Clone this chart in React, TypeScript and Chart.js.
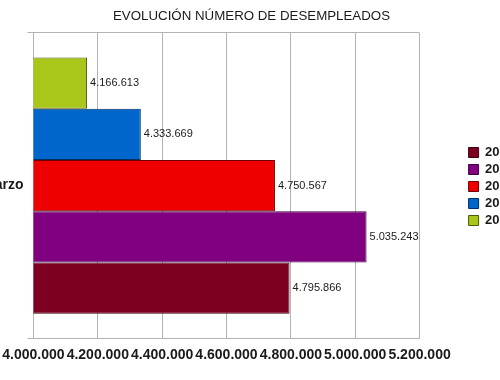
import React, { useEffect, useRef } from 'react';
import { Chart, registerables } from 'chart.js';

Chart.register(...registerables);

// ---- data ----
const categories = ['Marzo'];
const years = ['2014', '2013', '2012', '2011', '2010'];
const marzoValues = [4795866, 5035243, 4750567, 4333669, 4166613];
const xTickMin = 4000000;
const xTickMax = 5200000;
const xTickStep = 200000;
const titleText = 'EVOLUCIÓN NÚMERO DE DESEMPLEADOS';

// ---- styles ----
const fillColors = ['#7e0021', '#800080', '#ee0000', '#0066cc', '#a8c71a'];
const borderColors = ['#3d0010', '#3d003d', '#6e0000', '#00305f', '#4a5a08'];

const FONT = '"Liberation Sans", Arial, Helvetica, sans-serif';

function fmt(n: number): string {
  return Math.round(n).toString().replace(/\B(?=(\d{3})+(?!\d))/g, '.');
}

const valueLabels = {
  id: 'valueLabels',
  afterDatasetsDraw(chart: any) {
    const ctx = chart.ctx;
    ctx.save();
    ctx.font = `11px ${FONT}`;
    ctx.fillStyle = '#1a1a1a';
    ctx.textBaseline = 'middle';
    ctx.textAlign = 'left';
    chart.data.datasets.forEach((ds: any, i: number) => {
      const meta = chart.getDatasetMeta(i);
      meta.data.forEach((el: any, j: number) => {
        ctx.fillText(fmt(ds.data[j]), el.x + 3, el.y);
      });
    });
    ctx.restore();
  },
};

const CANVAS_W = 545;
const CANVAS_H = 380;

export default function App() {
  const ref = useRef<HTMLCanvasElement | null>(null);

  useEffect(() => {
    if (!ref.current) return;
    Chart.defaults.font.family = FONT;
    // datasets drawn top-to-bottom: 2010 at top, 2014 at bottom
    const order = years.map((_, i) => i).reverse();
    const chart = new Chart(ref.current, {
      type: 'bar',
      data: {
        labels: categories,
        datasets: order.map((i) => ({
          label: years[i],
          data: [marzoValues[i]],
          backgroundColor: fillColors[i],
          borderColor: borderColors[i],
          borderWidth: 1,
          barPercentage: 1,
          categoryPercentage: 0.84,
        })),
      },
      options: {
        indexAxis: 'y',
        animation: false,
        responsive: false,
        layout: { padding: { left: 0, right: 0, top: 0, bottom: 7 } },
        scales: {
          x: {
            type: 'linear',
            position: 'bottom',
            min: xTickMin,
            max: xTickMax,
            ticks: {
              stepSize: xTickStep,
              callback: (v: any) => fmt(Number(v)),
              font: { size: 14, weight: 'bold' },
              color: '#1a1a1a',
              padding: 9,
              autoSkip: false,
              maxRotation: 0,
            },
            grid: { color: '#b3b3b3', drawTicks: false },
            border: { display: true, color: '#b3b3b3' },
          },
          y: {
            type: 'category',
            position: 'left',
            offset: true,
            ticks: {
              font: { size: 14, weight: 'bold' },
              color: '#1a1a1a',
              padding: 4,
            },
            grid: { color: '#b3b3b3', offset: true, tickLength: 6 },
            border: { display: true, color: '#b3b3b3' },
          },
          yPad: {
            type: 'category',
            position: 'right',
            display: true,
            grid: { display: false, drawTicks: false },
            border: { display: false },
            ticks: { display: false },
            afterFit: (s: any) => {
              s.width = 45;
            },
          },
        },
        plugins: {
          title: {
            display: true,
            text: titleText,
            font: { size: 13.3, weight: 'normal' },
            color: '#1a1a1a',
            padding: { top: 8, bottom: 9 },
          },
          legend: {
            display: true,
            position: 'right',
            fullSize: true,
            align: 'center',
            reverse: true,
            labels: {
              boxWidth: 10,
              boxHeight: 10,
              padding: 4,
              font: { size: 13, weight: 'bold' },
              color: '#1a1a1a',
            },
          },
          tooltip: { enabled: false },
        },
      },
      plugins: [valueLabels],
    } as any);
    return () => chart.destroy();
  }, []);

  return (
    <div
      style={{
        position: 'fixed',
        left: 0,
        top: 0,
        width: 500,
        height: 380,
        overflow: 'hidden',
        background: '#ffffff',
      }}
    >
      <div style={{ position: 'absolute', left: -21, top: 0, width: CANVAS_W, height: CANVAS_H }}>
        <canvas ref={ref} width={CANVAS_W} height={CANVAS_H} style={{ display: 'block' }} />
      </div>
    </div>
  );
}
